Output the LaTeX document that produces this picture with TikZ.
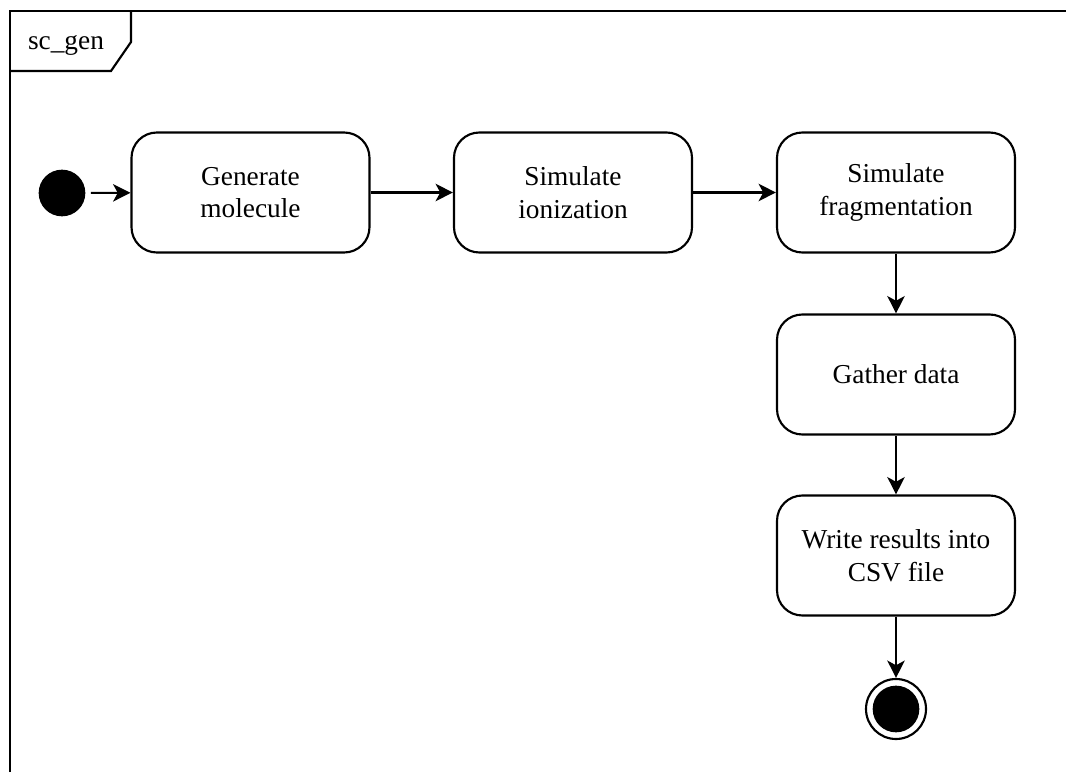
\documentclass[tikz,border=0pt]{standalone}
\usepackage{fontspec}
\setmainfont{Liberation Serif}
\usetikzlibrary{arrows.meta}

\begin{document}
\begin{tikzpicture}[x=0.75pt,y=0.75pt,
  action/.style={draw,line width=1.6pt,rounded corners=19pt,minimum width=178.5pt,minimum height=90pt,inner sep=0pt,align=center,font=\fontsize{20.5}{24.5}\selectfont},
  flow/.style={line width=1.6pt,-{Stealth[length=13pt,width=13pt,inset=3.5pt]}},
  initial/.style={circle,fill=black,minimum size=35pt,inner sep=0pt},
  final/.style={circle,draw,line width=1.6pt,minimum size=45pt,inner sep=0pt,
    path picture={\fill[black] (path picture bounding box.center) circle (17.5pt);}}]
\useasboundingbox (0,0) rectangle (1066,772);

% frame with its name tab
\draw[line width=1.6pt] (10,0) -- (10,761) -- (1066,761);
\draw[line width=1.6pt] (131,761) -- (131,730) -- (111,701) -- (10,701);
\node[font=\fontsize{20.5}{24.5}\selectfont] (framename) at (66,727) {sc\_gen};

\node[initial] (start) at (62,579) {};
\node[action] (gen) at (250.5,579.5) {Generate\\molecule};
\node[action] (ion) at (573,579.5) {Simulate\\ionization};
\node[action] (frag) at (896,579.5) {Simulate\\fragmentation};
\node[action] (gather) at (896,397.5) {Gather data};
\node[action] (write) at (896,216.5) {Write results into\\CSV file};
\node[final] (end) at (896,63) {};

\draw[flow,shorten <=4pt] (start) -- (gen);
\draw[flow] (gen) -- (ion);
\draw[flow] (ion) -- (frag);
\draw[flow] (frag) -- (gather);
\draw[flow] (gather) -- (write);
\draw[flow] (write) -- (end);

\end{tikzpicture}
\end{document}
